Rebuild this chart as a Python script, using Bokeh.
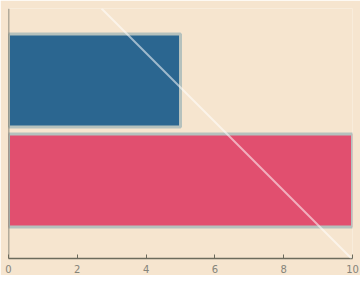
from bokeh.plotting import figure
from bokeh.models import Range1d, Span, Slope, FixedTicker, ColumnDataSource
from bokeh.embed import file_html
from bokeh.resources import INLINE

# data
positions = [1, 0]
values = [5, 10]
colors = ["#2b6690", "#e14f6f"]
x_ticks = [0, 2, 4, 6, 8, 10]

BG = "#f6e5cf"

src = ColumnDataSource(dict(y=positions, right=values, color=colors))

p = figure(width=360, height=275, output_backend="svg", toolbar_location=None,
           x_range=Range1d(0, 10), y_range=Range1d(-0.78, 1.72),
           background_fill_color=BG, border_fill_color=BG,
           min_border_left=8, min_border_right=8, min_border_top=8, min_border_bottom=0)
p.outline_line_color = None
p.grid.visible = False
p.yaxis.visible = False

p.hbar(y="y", left=0, right="right", height=0.93, fill_color="color",
       line_color="#b5c1bd", line_width=3, source=src)

p.add_layout(Span(location=0, dimension="height", line_color="#6c6b5c", line_width=1.5))
p.add_layout(Slope(gradient=-0.344, y_intercept=2.65, line_color="white",
                   line_alpha=0.55, line_width=2))

xa = p.xaxis[0]
xa.ticker = FixedTicker(ticks=x_ticks)
xa.axis_line_color = "#6c6b5c"
xa.axis_line_width = 1.5
xa.major_tick_line_color = "#6c6b5c"
xa.major_tick_in = 4
xa.major_tick_out = 0
xa.minor_tick_line_color = None
xa.major_label_text_color = "#85847a"
xa.major_label_text_font = "DejaVu Sans"
xa.major_label_text_font_size = "10px"
xa.major_label_standoff = 6

open("out.html", "w").write(file_html(p, INLINE))
